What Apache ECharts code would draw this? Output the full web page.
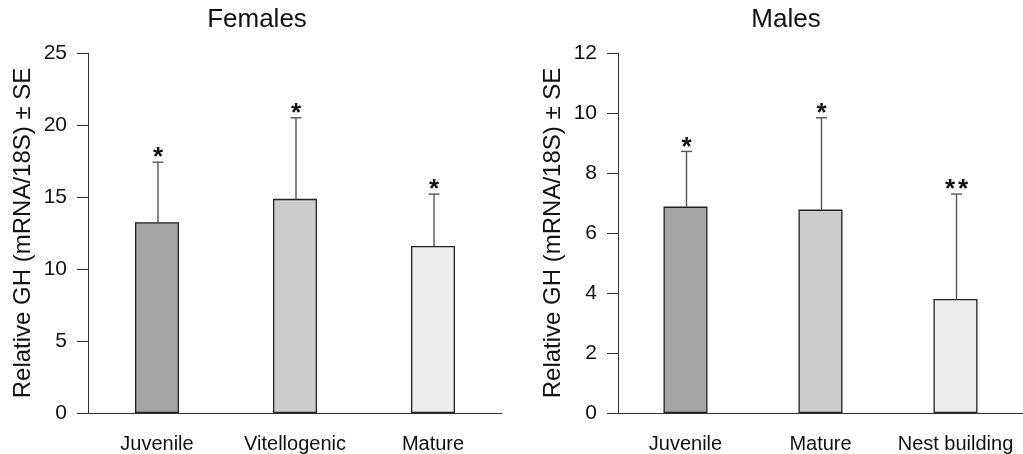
<!DOCTYPE html>
<html>
<head>
<meta charset="utf-8">
<title>Relative GH</title>
<script src="https://cdn.jsdelivr.net/npm/echarts@6/dist/echarts.min.js"></script>
<style>
  html, body { margin: 0; padding: 0; background: #fff; }
  #chart { width: 1023px; height: 454px; }
</style>
</head>
<body>
<div id="chart"></div>
<script>
// data
var femaleStages = ['Juvenile', 'Vitellogenic', 'Mature'];
var femaleMean = [13.25, 14.87, 11.6];
var femaleTop = [17.42, 20.5, 15.2];     // mean + SE
var femaleStars = ['*', '*', '*'];

var maleStages = ['Juvenile', 'Mature', 'Nest building'];
var maleMean = [6.88, 6.78, 3.8];
var maleTop = [8.72, 9.84, 7.3];
var maleStars = ['*', '*', '**'];

var femaleTicks = [0, 25, 5];   // min, max, step
var maleTicks = [0, 12, 2];

var barColors = ['#a5a5a5', '#cccccc', '#ededed'];
var font = 'Liberation Sans, Arial, sans-serif';

var barData = function (values) {
    return values.map(function (v, i) {
        return { value: v, itemStyle: { color: barColors[i] } };
    });
};

// error bar + significance stars, drawn through the axis scales
var errSeries = function (idx, means, tops, stars) {
    return {
        type: 'custom',
        xAxisIndex: idx,
        yAxisIndex: idx,
        z: 1,
        data: means.map(function (m, i) { return [i, m, tops[i]]; }),
        renderItem: function (params, api) {
            var lo = api.coord([api.value(0), api.value(1)]);
            var hi = api.coord([api.value(0), api.value(2)]);
            var x = lo[0] + 1;
            var st = { stroke: '#555', lineWidth: 1.4 };
            var kids = [
                { type: 'line', shape: { x1: x, y1: lo[1], x2: x, y2: hi[1] }, style: st },
                { type: 'line', shape: { x1: x - 5.5, y1: hi[1], x2: x + 5.5, y2: hi[1] }, style: st }
            ];
            // one text per star so they can be spaced apart
            var s = stars[params.dataIndex];
            for (var k = 0; k < s.length; k++) {
                kids.push({
                    type: 'text',
                    x: x + (k - (s.length - 1) / 2) * 13,
                    y: hi[1] + 9,
                    style: {
                        text: '*',
                        fill: '#111',
                        font: 'bold 26px ' + font,
                        align: 'center',
                        verticalAlign: 'bottom'
                    }
                });
            }
            return { type: 'group', children: kids };
        }
    };
};

var xAxisCfg = function (idx, cats) {
    return {
        type: 'category',
        gridIndex: idx,
        data: cats,
        axisLine: { lineStyle: { color: '#333', width: 1 } },
        axisTick: { length: 12, interval: 0, lineStyle: { color: '#333' } },
        axisLabel: { color: '#111', fontFamily: font, fontSize: 20, margin: 21, interval: 0 }
    };
};

var yAxisCfg = function (idx, ticks) {
    return {
        type: 'value',
        gridIndex: idx,
        min: ticks[0],
        max: ticks[1],
        interval: ticks[2],
        name: 'Relative GH (mRNA/18S) ± SE',
        nameLocation: 'middle',
        nameGap: 53,
        nameTextStyle: { color: '#111', fontFamily: font, fontSize: 24 },
        axisLine: { show: true, lineStyle: { color: '#333', width: 1 } },
        axisTick: { show: true, length: 11, lineStyle: { color: '#333' } },
        axisLabel: { color: '#111', fontFamily: font, fontSize: 21, margin: 21 },
        splitLine: { show: false }
    };
};

var myChart = echarts.init(document.getElementById('chart'));
var option = {
    animation: false,
    backgroundColor: '#fff',
    title: [
        { text: 'Females', left: 257, top: 7, textAlign: 'center', padding: 0,
          textStyle: { fontFamily: font, fontSize: 26, fontWeight: 'normal', color: '#111' } },
        { text: 'Males', left: 786, top: 7, textAlign: 'center', padding: 0,
          textStyle: { fontFamily: font, fontSize: 26, fontWeight: 'normal', color: '#111' } }
    ],
    grid: [
        { left: 88, top: 53, width: 414, bottom: 41 },
        { left: 618, top: 53, width: 414, bottom: 41 }
    ],
    xAxis: [xAxisCfg(0, femaleStages), xAxisCfg(1, maleStages)],
    yAxis: [yAxisCfg(0, femaleTicks), yAxisCfg(1, maleTicks)],
    series: [
        {
            type: 'bar', xAxisIndex: 0, yAxisIndex: 0, barWidth: 44, z: 2,
            itemStyle: { borderColor: '#222', borderWidth: 1.3 },
            data: barData(femaleMean)
        },
        errSeries(0, femaleMean, femaleTop, femaleStars),
        {
            type: 'bar', xAxisIndex: 1, yAxisIndex: 1, barWidth: 44, z: 2,
            itemStyle: { borderColor: '#222', borderWidth: 1.3 },
            data: barData(maleMean)
        },
        errSeries(1, maleMean, maleTop, maleStars)
    ]
};
myChart.setOption(option);
</script>
</body>
</html>
